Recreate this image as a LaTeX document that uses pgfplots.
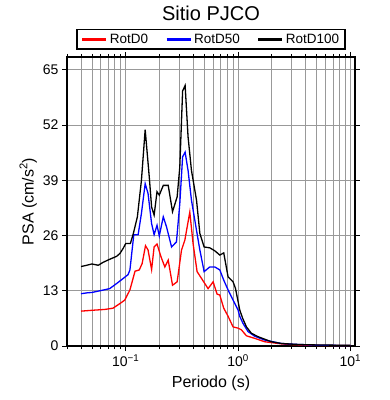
\documentclass[border=0pt]{standalone}
\usepackage{fontspec}
\setmainfont{Liberation Sans}
\usepackage{pgfplots}
\pgfplotsset{compat=1.18}
\begin{document}
\begin{tikzpicture}
\path[use as bounding box] (-67bp,-54bp) rectangle (323bp,346bp);
\begin{axis}[
  at={(0,0)}, anchor=south west,
  scale only axis, width=288bp, height=289bp,
  xmode=log, xmin=0.03, xmax=11, ymin=0, ymax=68,
  xtick={0.1,1,10},
  xticklabels={10\textsuperscript{−1},10\textsuperscript{0},10\textsuperscript{1}},
  minor xtick={0.03,0.04,0.05,0.06,0.07,0.08,0.09,0.2,0.3,0.4,0.5,0.6,0.7,0.8,0.9,2,3,4,5,6,7,8,9},
  ytick={0,13,26,39,52,65},
  yticklabels={0,13,26,39,52,65},
  grid=both,
  major grid style={black!40, line width=0.7bp},
  minor grid style={black!40, line width=0.7bp},
  tick align=outside,
  major tick length=5bp, minor tick length=3bp,
  every tick/.style={black, line width=0.7bp},
  axis line style={line width=1.6bp},
  tick label style={font=\fontsize{14bp}{16bp}\selectfont},
  every axis title shift=0pt,
  title={Sitio PJCO},
  title style={font=\fontsize{20bp}{22bp}\selectfont, at={(axis description cs:0.5,1)}, anchor=base, yshift=36.5bp},
  xlabel={Periodo (s)},
  xlabel style={font=\fontsize{16bp}{18bp}\selectfont, at={(axis description cs:0.5,0)}, anchor=base, yshift=-41.3bp},
  ylabel={PSA (cm/s\textsuperscript{2})},
  ylabel style={font=\fontsize{16bp}{18bp}\selectfont, at={(axis description cs:-0.1163,0.5)}, anchor=base},
  legend columns=3,
  legend style={at={(axis description cs:0.5,1)}, anchor=south, yshift=7bp,
    draw=black, line width=1.5bp, font=\fontsize{13.5bp}{15bp}\selectfont,
    inner xsep=4bp, inner ysep=2.5bp,
    /tikz/every even column/.append style={column sep=15bp}},
  legend image code/.code={\draw[#1, line width=3bp] (0bp,0bp) -- (24bp,0bp);},
]
\addplot[red, line width=1.3bp] coordinates {
(0.040,8.2) (0.050,8.4) (0.065,8.6) (0.077,8.9) (0.089,10.0) (0.098,10.8)
(0.109,13.2) (0.121,17.6) (0.132,17.9) (0.140,19.4) (0.150,23.6) (0.158,22.6)
(0.170,18.0) (0.179,23.3) (0.190,24.0) (0.206,21.0) (0.223,18.6) (0.239,20.2)
(0.261,14.3) (0.287,15.1) (0.314,22.6) (0.336,24.9) (0.372,31.5) (0.398,24.1)
(0.432,17.5) (0.473,15.9) (0.541,13.5) (0.600,15.1) (0.651,12.2) (0.688,12.0)
(0.746,8.9) (0.815,7.0) (0.903,4.5) (1.0,4.2) (1.072,3.8) (1.188,2.4)
(1.407,1.8) (1.727,1.0) (2.43,0.5) (3.19,0.3) (4.0,0.2) (5.0,0.15) (7.0,0.1) (10.0,0.1)
};
\addlegendentry{RotD0}
\addplot[blue, line width=1.3bp] coordinates {
(0.040,12.3) (0.045,12.5) (0.050,12.6) (0.059,13.0) (0.072,13.5) (0.083,14.7)
(0.095,15.9) (0.105,16.8) (0.109,17.9) (0.118,26.2) (0.129,26.2) (0.138,31.2)
(0.149,38.2) (0.158,35.9) (0.170,28.8) (0.179,26.2) (0.190,28.4) (0.199,25.9)
(0.216,30.4) (0.231,28.0) (0.256,23.3) (0.283,24.5) (0.303,33.5) (0.321,44.5)
(0.338,45.6) (0.359,41.3) (0.385,34.3) (0.427,27.2) (0.457,22.6) (0.499,17.5)
(0.560,18.6) (0.621,18.6) (0.688,17.9) (0.746,15.5) (0.815,13.2) (0.903,10.8)
(1.0,8.5) (1.035,7.0) (1.108,5.3) (1.227,3.4) (1.407,2.3) (1.727,1.4)
(2.43,0.6) (3.19,0.4) (4.0,0.3) (5.0,0.2) (7.0,0.15) (10.0,0.1)
};
\addlegendentry{RotD50}
\addplot[black, line width=1.3bp] coordinates {
(0.040,18.7) (0.045,19.0) (0.050,19.3) (0.057,19.0) (0.063,19.7) (0.072,20.4)
(0.083,21.1) (0.089,21.8) (0.095,23.0) (0.100,24.1) (0.110,24.1) (0.117,26.5)
(0.127,30.4) (0.138,39.0) (0.149,50.9) (0.162,39.8) (0.170,32.7) (0.179,30.8)
(0.190,36.3) (0.199,35.5) (0.216,37.8) (0.239,37.8) (0.261,31.6) (0.287,35.1)
(0.303,42.1) (0.321,60.0) (0.338,61.3) (0.359,49.2) (0.385,41.3) (0.427,34.3)
(0.457,26.5) (0.499,23.3) (0.560,23.1) (0.621,22.4) (0.688,21.4) (0.746,21.9)
(0.815,16.3) (0.903,15.1) (0.95,13.5) (1.035,8.5) (1.10,6.5) (1.188,4.5)
(1.315,3.0) (1.506,2.2) (1.727,1.6) (1.98,1.0) (2.43,0.6) (3.19,0.4)
(4.0,0.3) (5.0,0.25) (7.0,0.2) (10.0,0.15)
};
\addlegendentry{RotD100}
\end{axis}
\end{tikzpicture}
\end{document}
